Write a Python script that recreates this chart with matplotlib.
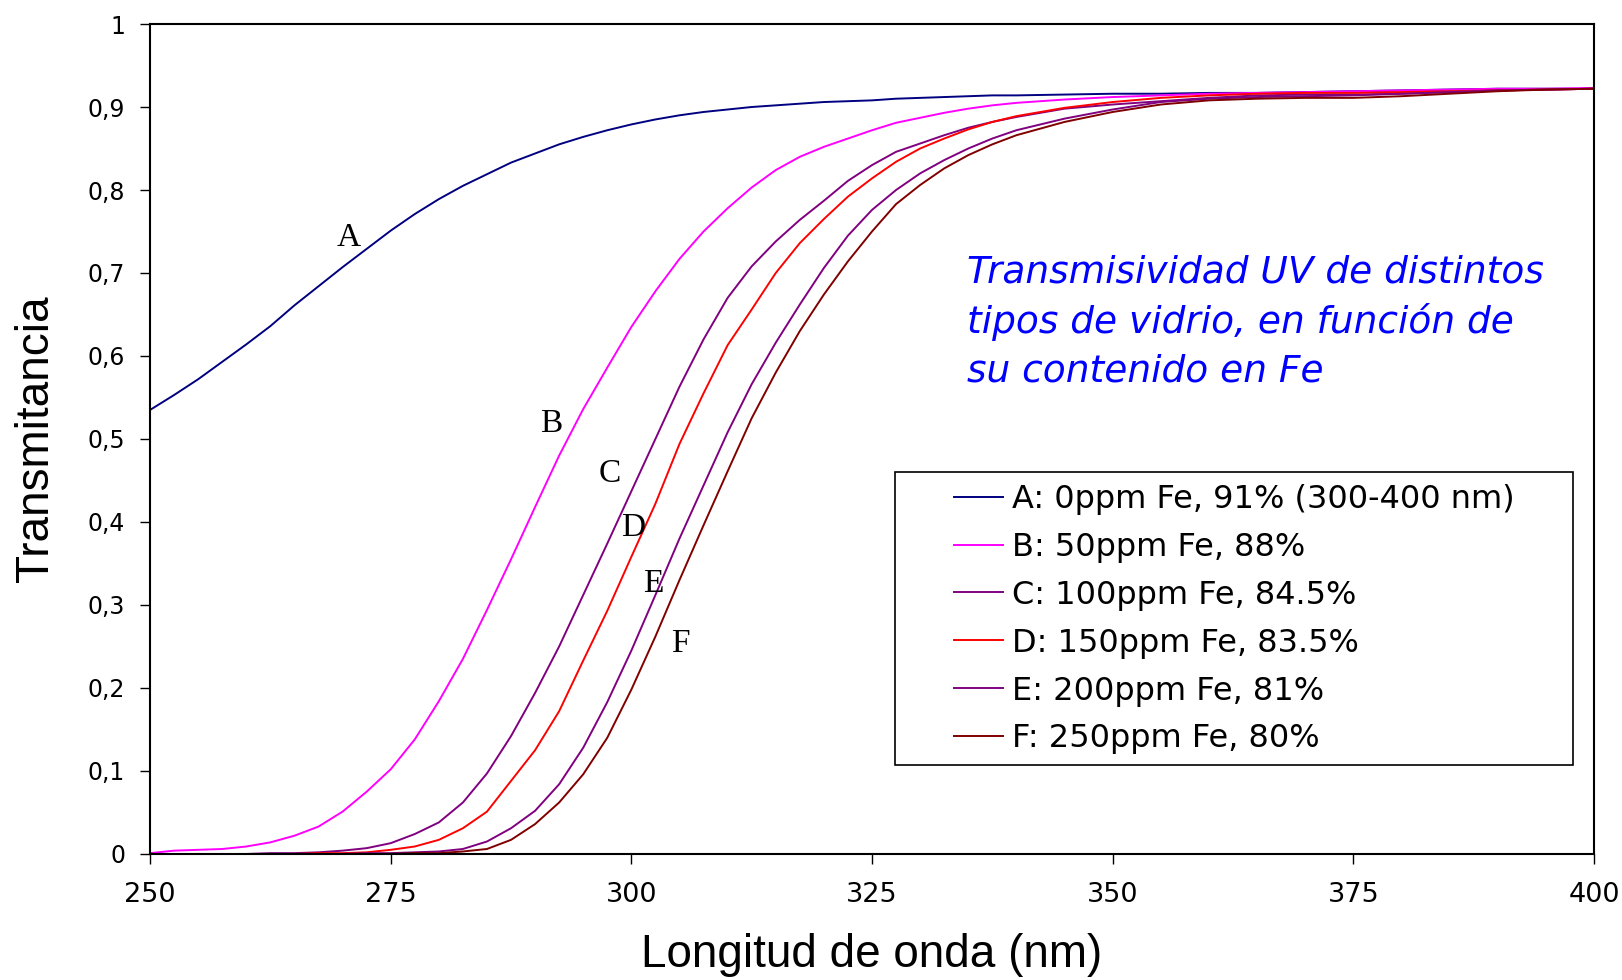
import matplotlib
matplotlib.use("Agg")
import matplotlib.pyplot as plt
from matplotlib.patches import Rectangle
from matplotlib.ticker import FuncFormatter

# Datos
longitud = [250, 252.5, 255, 257.5, 260, 262.5, 265, 267.5, 270, 272.5,
            275, 277.5, 280, 282.5, 285, 287.5, 290, 292.5, 295, 297.5,
            300, 302.5, 305, 307.5, 310, 312.5, 315, 317.5, 320, 322.5,
            325, 327.5, 330, 332.5, 335, 337.5, 340, 345, 350, 355,
            360, 365, 370, 375, 380, 385, 390, 395, 400]

trans_A = [.535, .553, .572, .593, .614, .636, .661, .684, .707, .729,
           .751, .771, .789, .805, .819, .833, .844, .855, .864, .872,
           .879, .885, .890, .894, .897, .900, .902, .904, .906, .907,
           .908, .910, .911, .912, .913, .914, .914, .915, .916, .916,
           .917, .917, .918, .919, .920, .921, .922, .922, .922]

trans_B = [.001, .004, .005, .006, .009, .014, .022, .033, .051, .075,
           .102, .138, .184, .235, .294, .355, .418, .480, .536, .586,
           .635, .678, .717, .750, .778, .803, .824, .840, .852, .862,
           .872, .881, .887, .893, .898, .902, .905, .909, .912, .914,
           .916, .917, .918, .919, .920, .921, .922, .922, .923]

trans_C = [0, 0, 0, 0, 0, .001, .001, .002, .004, .007,
           .013, .024, .038, .062, .097, .142, .194, .250, .312, .374,
           .437, .500, .563, .620, .670, .708, .738, .764, .787, .811,
           .830, .846, .856, .866, .875, .882, .888, .898, .903, .907,
           .911, .914, .915, .915, .916, .918, .920, .921, .922]

trans_D = [0, 0, 0, 0, 0, 0, 0, .001, .001, .002,
           .005, .009, .017, .031, .051, .088, .125, .172, .233, .293,
           .358, .422, .494, .555, .613, .656, .700, .736, .765, .792,
           .814, .834, .850, .862, .873, .882, .889, .899, .906, .911,
           .914, .916, .917, .917, .918, .919, .920, .921, .922]

trans_E = [0, 0, 0, 0, 0, 0, 0, 0, 0, .001,
           .001, .002, .003, .006, .015, .031, .052, .084, .128, .183,
           .245, .312, .380, .444, .508, .566, .616, .662, .706, .745,
           .776, .800, .820, .836, .850, .862, .872, .886, .897, .906,
           .910, .912, .913, .914, .916, .918, .920, .921, .922]

trans_F = [0, 0, 0, 0, 0, 0, 0, 0, 0, 0,
           0, .001, .001, .003, .006, .017, .036, .062, .096, .140,
           .198, .262, .330, .396, .461, .525, .580, .630, .674, .714,
           .750, .783, .806, .826, .842, .855, .866, .882, .894, .903,
           .908, .910, .911, .911, .913, .916, .919, .921, .922]

series = [trans_A, trans_B, trans_C, trans_D, trans_E, trans_F]
etiquetas = ["A: 0ppm Fe, 91% (300-400 nm)", "B: 50ppm Fe, 88%",
             "C: 100ppm Fe, 84.5%", "D: 150ppm Fe, 83.5%",
             "E: 200ppm Fe, 81%", "F: 250ppm Fe, 80%"]
colores = ["#000080", "#FF00FF", "#800080", "#FF0000", "#800080", "#800000"]
letras = ["A", "B", "C", "D", "E", "F"]
pos_letras = [(270.6, 0.732), (291.7, 0.509), (297.8, 0.448),
              (300.2, 0.383), (302.3, 0.316), (305.1, 0.243)]

# Figura
fig = plt.figure(figsize=(16.22, 9.8), dpi=100)
ax = fig.add_axes([0.0925, 0.1286, 0.8902, 0.8469])

lineas = []
for y, c, lab in zip(series, colores, etiquetas):
    l, = ax.plot(longitud, y, color=c, linewidth=1.4, label=lab)
    lineas.append(l)

for letra, (x, y) in zip(letras, pos_letras):
    ax.text(x, y, letra, fontsize=24, family="Liberation Serif",
            ha="center", va="baseline")

ax.set_xlim(250, 400)
ax.set_ylim(0, 1)
ax.set_xticks([250, 275, 300, 325, 350, 375, 400])
ax.set_yticks([i / 10 for i in range(11)])
ax.yaxis.set_major_formatter(FuncFormatter(lambda v, p: ("%g" % v).replace(".", ",")))

ax.tick_params(axis="y", direction="out", length=7, width=1, pad=11, labelsize=17)
ax.tick_params(axis="x", direction="out", length=7, width=1, pad=13, labelsize=19.5)
for s in ax.spines.values():
    s.set_linewidth(1.5)

ax.set_xlabel("Longitud de onda (nm)", fontsize=33, family="Liberation Sans", labelpad=18)
ax.set_ylabel("Transmitancia", fontsize=33, family="Liberation Sans", labelpad=21)

# Texto descriptivo
ax.text(0.566, 0.722, "Transmisividad UV de distintos\ntipos de vidrio, en función de\nsu contenido en Fe",
        transform=ax.transAxes, fontsize=27, style="italic", color="#0000FF",
        ha="left", va="top", linespacing=1.42)

# Leyenda: marco aparte y entradas sin marco
ax.add_patch(Rectangle((0.516, 0.107), 0.4695, 0.353, transform=ax.transAxes,
                       fill=False, edgecolor="black", linewidth=1.2, zorder=5))
ax.legend(handles=lineas, loc="upper left", bbox_to_anchor=(0.5568, 0.446),
          frameon=False, borderpad=0, borderaxespad=0, fontsize=23,
          handlelength=1.53, handletextpad=0.3, labelspacing=0.53)

fig.savefig("out.png", dpi=100)
